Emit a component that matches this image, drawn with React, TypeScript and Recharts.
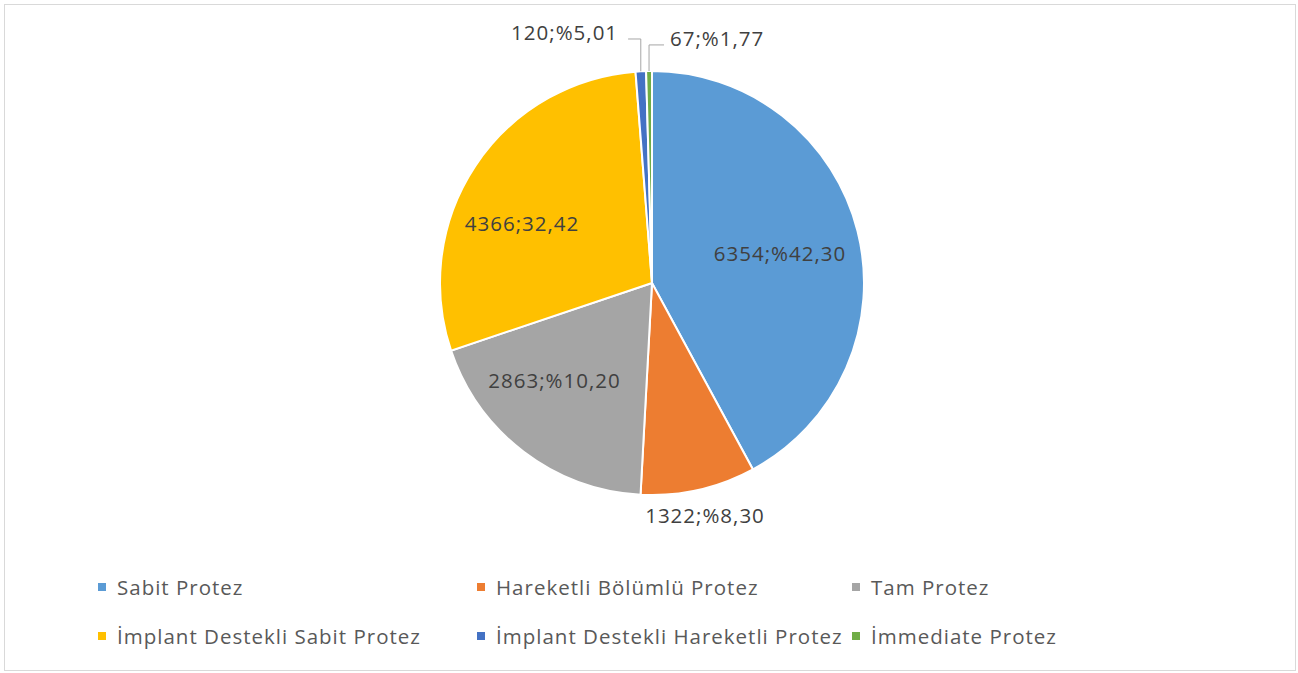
import React from "react";
import { PieChart, Pie, Cell, Legend } from "recharts";

const categories = [
  "Sabit Protez",
  "Hareketli Bölümlü Protez",
  "Tam Protez",
  "İmplant Destekli Sabit Protez",
  "İmplant Destekli Hareketli Protez",
  "İmmediate Protez",
];
const counts = [6354, 1322, 2863, 4366, 120, 67];
const labelTexts = ["6354;%42,30", "1322;%8,30", "2863;%10,20", "4366;32,42", "120;%5,01", "67;%1,77"];
const colors = ["#5B9BD5", "#ED7D31", "#A5A5A5", "#FFC000", "#4472C4", "#70AD47"];

// label placement relative to pie centre, in units of outer radius (y down)
const labelPlacement = [
  { x: 0.604, y: -0.142, anchor: "middle", leader: false },
  { x: 0.25, y: 1.094, anchor: "middle", leader: false },
  { x: -0.46, y: 0.458, anchor: "middle", leader: false },
  { x: -0.613, y: -0.283, anchor: "middle", leader: false },
  { x: -0.16, y: -1.184, anchor: "end", leader: true },
  { x: 0.085, y: -1.156, anchor: "start", leader: true },
];

const data = categories.map((name, i) => ({ name, value: counts[i], label: labelTexts[i] }));

const W = 1290;
const H = 665;
const FONT = "'Open Sans', 'Noto Sans', sans-serif";
const FS = 20.5;
const LS = 1;

const RADIAN = Math.PI / 180;

const renderLabel = (props: any) => {
  const { cx, cy, outerRadius, midAngle, index } = props;
  const p = labelPlacement[index];
  const x = cx + p.x * outerRadius;
  const y = cy + p.y * outerRadius;
  const elements: any[] = [];
  if (p.leader) {
    const ex = cx + outerRadius * Math.cos(-midAngle * RADIAN);
    const ey = cy + outerRadius * Math.sin(-midAngle * RADIAN);
    const elbowY = y + 7;
    const hx = p.anchor === "end" ? x + 10 : x - 6;
    elements.push(
      <polyline
        key="l"
        points={`${ex},${ey} ${ex},${elbowY} ${hx},${elbowY}`}
        fill="none"
        stroke="#A6A6A6"
        strokeWidth={1}
      />
    );
  }
  elements.push(
    <text
      key="t"
      x={x}
      y={y}
      textAnchor={p.anchor}
      dominantBaseline="central"
      fill="#404040"
      fontSize={FS}
      letterSpacing={LS}
      fontFamily={FONT}
    >
      {labelTexts[index]}
    </text>
  );
  return <g>{elements}</g>;
};

const legendCols = [93, 472, 847];
const legendRows = [582, 631];

const renderLegend = () => (
  <div style={{ position: "relative", width: W, height: H }}>
    {categories.map((c, i) => {
      const col = i % 3;
      const row = Math.floor(i / 3);
      return (
        <div
          key={c}
          style={{
            position: "absolute",
            left: legendCols[col],
            top: legendRows[row] - 14,
            height: 28,
            display: "flex",
            alignItems: "center",
            whiteSpace: "nowrap",
            fontFamily: FONT,
            fontSize: FS,
            letterSpacing: LS,
            color: "#595959",
          }}
        >
          <span style={{ display: "inline-block", width: 8, height: 8, background: colors[i], marginRight: 11 }} />
          <span>{c}</span>
        </div>
      );
    })}
  </div>
);

export default function App() {
  return (
    <div
      style={{
        position: "absolute",
        left: 4,
        top: 4,
        width: W,
        height: H,
        border: "1px solid #D9D9D9",
        background: "#fff",
      }}
    >
      <PieChart width={W} height={H} margin={{ top: 0, right: 0, bottom: 0, left: 0 }}>
        <Pie
          data={data}
          dataKey="value"
          nameKey="name"
          cx={647}
          cy={278}
          outerRadius={212}
          startAngle={90}
          endAngle={-270}
          stroke="#FFFFFF"
          strokeWidth={2}
          label={renderLabel}
          labelLine={false}
          isAnimationActive={false}
        >
          {data.map((d, i) => (
            <Cell key={d.name} fill={colors[i]} />
          ))}
        </Pie>
        <Legend
          content={renderLegend}
          wrapperStyle={{ position: "absolute", left: 0, top: 0, width: W, height: H, pointerEvents: "none" }}
        />
      </PieChart>
    </div>
  );
}
